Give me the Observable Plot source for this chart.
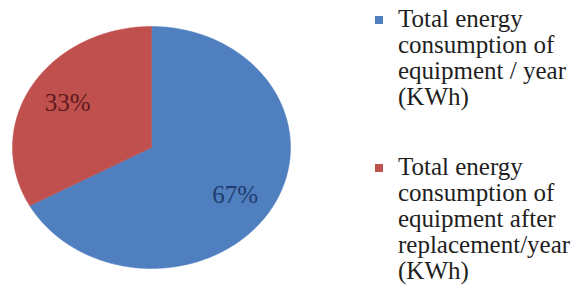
<!DOCTYPE html>
<html>
<head>
<meta charset="utf-8">
<script src="https://cdn.jsdelivr.net/npm/d3@7"></script>
<script src="https://cdn.jsdelivr.net/npm/@observablehq/plot@0.6"></script>
<style>
  html, body { margin: 0; padding: 0; background: #fff; }
  #wrap { position: relative; width: 582px; height: 290px; overflow: hidden; }
  #chart { position: absolute; left: 0; top: 0; }
  #legend { position: absolute; left: 374px; top: 6px; font-family: "Liberation Serif", "Times New Roman", serif; font-size: 25px; line-height: 26px; color: #1e1e1e; }
  .item { position: relative; padding-left: 24px; margin-bottom: 44px; white-space: nowrap; }
  .sw { position: absolute; left: 1px; top: 10px; width: 8px; height: 8px; }
</style>
</head>
<body>
<div id="wrap"><div id="chart"></div><div id="legend"></div></div>
<script>
const categories = [
  "Total energy consumption of equipment / year (KWh)",
  "Total energy consumption of equipment after replacement/year (KWh)"
];
const legendLines = [
  ["Total energy", "consumption of", "equipment / year", "(KWh)"],
  ["Total energy", "consumption of", "equipment after", "replacement/year", "(KWh)"]
];
const values = [67, 33];
const labels = ["67%", "33%"];
const colors = ["#4f7fbe", "#c0504d"];
const labelColors = ["#1f3c6e", "#5e1a1d"];

const data = categories.map((c, i) => ({category: c, value: values[i], label: labels[i], color: colors[i], labelColor: labelColors[i]}));
const arcs = d3.pie().sort(null).value(d => d.value)(data);

// slice outlines in unit-circle coordinates (angle clockwise from 12 o'clock)
const polys = [];
arcs.forEach((a, i) => {
  const n = Math.max(4, Math.ceil((a.endAngle - a.startAngle) / 0.01));
  polys.push({i, x: 0, y: 0, category: a.data.category});
  for (let k = 0; k <= n; k++) {
    const t = a.startAngle + (a.endAngle - a.startAngle) * k / n;
    polys.push({i, x: Math.sin(t), y: Math.cos(t), category: a.data.category});
  }
  polys.push({i, x: 0, y: 0, category: a.data.category});
});
const labelPts = arcs.map(a => {
  const m = (a.startAngle + a.endAngle) / 2;
  return {x: 0.7 * Math.sin(m), y: 0.72 * Math.cos(m) - (a.data.value > 50 ? 0.03 : 0), label: a.data.label, color: a.data.labelColor};
});

const chart = Plot.plot({
  width: 300,
  height: 290,
  marginLeft: 12,
  marginRight: 10,
  marginTop: 26,
  marginBottom: 22,
  x: {domain: [-1, 1], axis: null},
  y: {domain: [-1, 1], axis: null},
  color: {domain: categories, range: colors},
  marks: [
    Plot.line(polys, {x: "x", y: "y", z: "i", fill: "category", stroke: "category", strokeWidth: 0.5}),
    Plot.text(labelPts, {x: "x", y: "y", text: "label", fill: "color", fontSize: 25, fontFamily: "Liberation Serif, Times New Roman, serif"})
  ]
});
document.getElementById("chart").appendChild(chart);

const legend = document.getElementById("legend");
legendLines.forEach((lines, i) => {
  const item = document.createElement("div");
  item.className = "item";
  const sw = document.createElement("div");
  sw.className = "sw";
  sw.style.background = colors[i];
  item.appendChild(sw);
  lines.forEach(l => { const d = document.createElement("div"); d.textContent = l; item.appendChild(d); });
  legend.appendChild(item);
});
</script>
</body>
</html>
